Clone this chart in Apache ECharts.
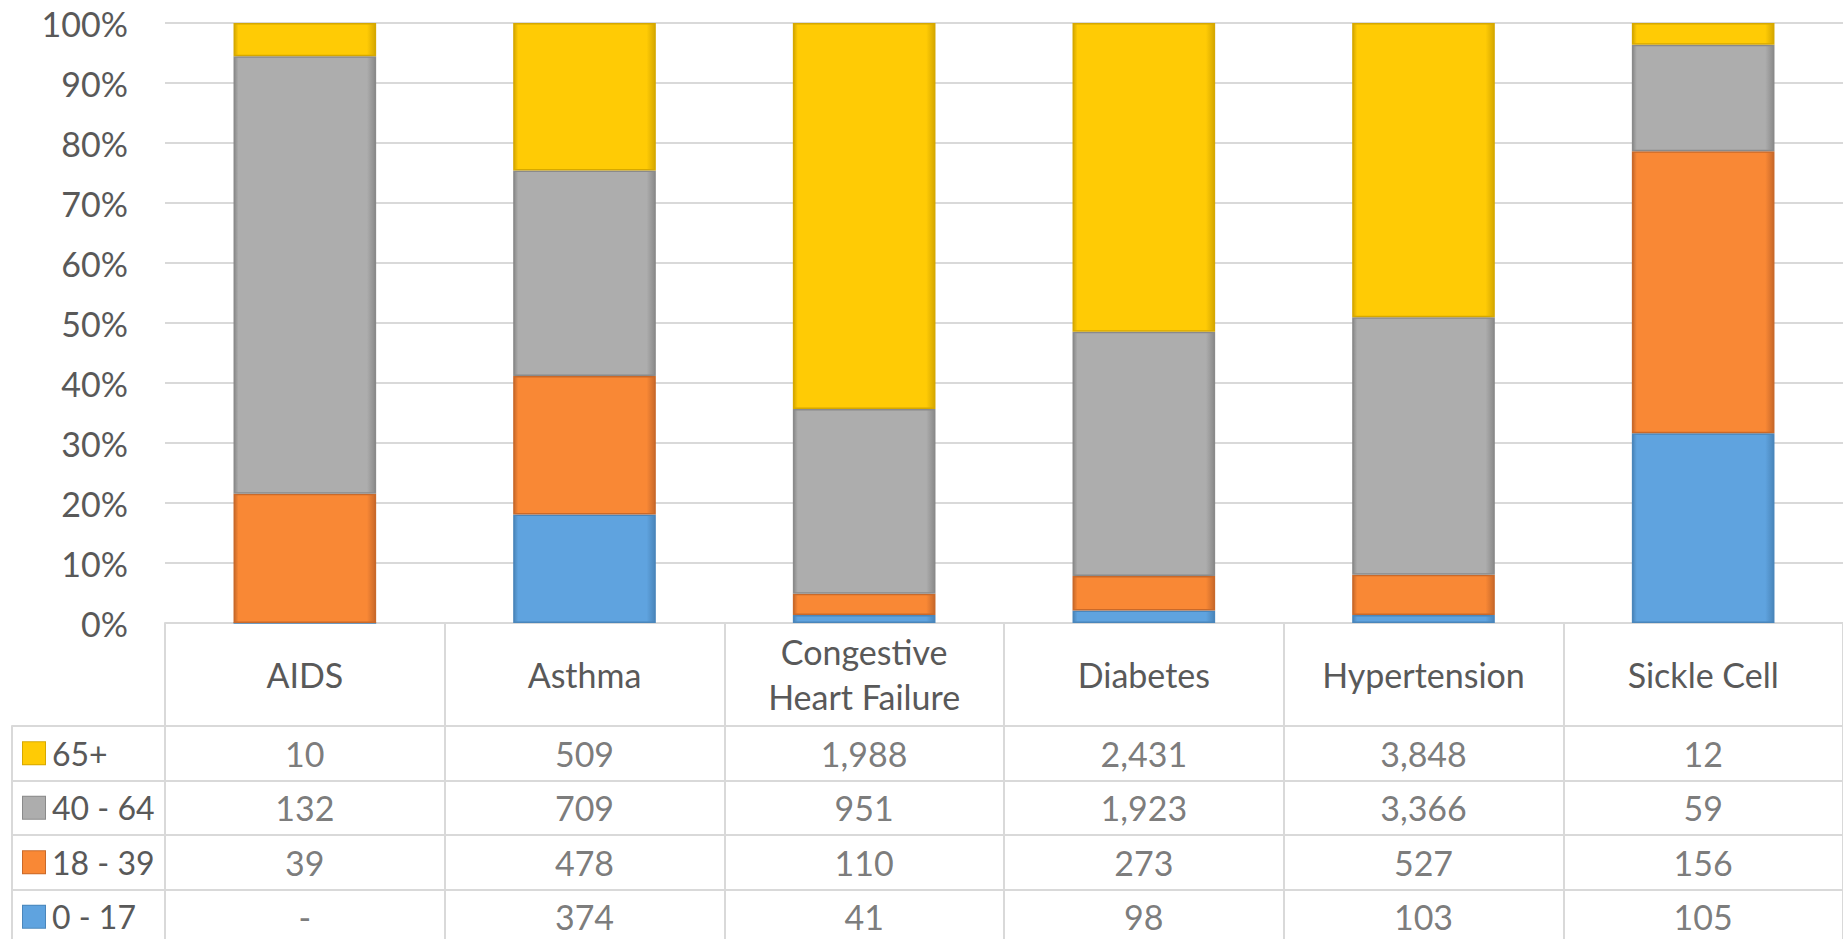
<!DOCTYPE html>
<html>
<head>
<meta charset="utf-8">
<title>Age groups by condition</title>
<script src="https://cdn.jsdelivr.net/npm/echarts@6.0.0/dist/echarts.min.js"></script>
<style>
    html, body { margin: 0; padding: 0; background: #fff; }
    #main { width: 1843px; height: 939px; }
</style>
</head>
<body>
<div id="main"></div>
<script>
// categories (columns of the data table)
var categories = ['AIDS', 'Asthma', 'Congestive Heart Failure', 'Diabetes', 'Hypertension', 'Sickle Cell'];

// counts per age group
var age0to17  = [0, 374, 41, 98, 103, 105];
var age18to39 = [39, 478, 110, 273, 527, 156];
var age40to64 = [132, 709, 951, 1923, 3366, 59];
var age65plus = [10, 509, 1988, 2431, 3848, 12];

var groupNames = ['0 - 17', '18 - 39', '40 - 64', '65+'];
var groupColors = ['#5fa3df', '#f98835', '#adadad', '#ffcb05'];
var groupBorders = ['#4a86bb', '#c9692a', '#8a8a8a', '#d6a800'];

// y axis ticks (percent)
var yTicks = [0, 10, 20, 30, 40, 50, 60, 70, 80, 90, 100];

var groups = [age0to17, age18to39, age40to64, age65plus];
var textColor = '#595959';
var lineColor = '#d9d9d9';
var fontFamily = 'Lato, "Open Sans", sans-serif';
var fontSize = 34;

//每一列换算成百分比
function toPercent(arr, i) {
    var total = 0;
    for (var g = 0; g < groups.length; g++) {
        total += groups[g][i];
    }
    return total ? arr[i] / total * 100 : 0;
}

function fmt(v) {
    if (!v) return '-';
    return v.toLocaleString('en-US');
}

var barSeries = [];
for (var g = 0; g < groups.length; g++) {
    var pct = [];
    for (var i = 0; i < categories.length; i++) {
        pct.push(toPercent(groups[g], i));
    }
    barSeries.push({
        name: groupNames[g],
        type: 'bar',
        stack: 'total',
        xAxisIndex: 0,
        yAxisIndex: 0,
        barWidth: '51%',
        data: pct,
        itemStyle: {
            //左右边缘稍暗一点,模仿斜面效果
            color: {
                type: 'linear', x: 0, y: 0, x2: 1, y2: 0,
                colorStops: [
                    { offset: 0, color: groupBorders[g] },
                    { offset: 0.03, color: groupColors[g] },
                    { offset: 0.94, color: groupColors[g] },
                    { offset: 1, color: groupBorders[g] }
                ]
            },
            borderColor: groupBorders[g],
            borderWidth: 1.5
        }
    });
}

// table rows, top to bottom: 65+, 40 - 64, 18 - 39, 0 - 17
var tableRows = groupNames.slice().reverse();
var tableCells = [];
for (var r = 0; r < tableRows.length; r++) {
    var src = groups[groups.length - 1 - r];
    for (var c = 0; c < categories.length; c++) {
        tableCells.push([categories[c], tableRows[r], src[c]]);
    }
}

// legend squares in the left column of the table
var rich = {
    t: { fontSize: 32, fontFamily: fontFamily, color: textColor, padding: [0, 0, 0, 7] }
};
for (var g = 0; g < groupNames.length; g++) {
    rich['k' + g] = {
        width: 22, height: 22,
        backgroundColor: groupColors[g],
        borderColor: groupBorders[g],
        borderWidth: 1
    };
}

var myChart = echarts.init(document.getElementById('main'), null, { renderer: 'svg' });
myChart.setOption({
    animation: false,
    backgroundColor: '#fff',
    grid: [
        { left: 165, right: 0, top: 23, height: 600, outerBoundsMode: 'none' },
        { left: 165, right: 0, top: 726, height: 218, outerBoundsMode: 'none' }
    ],
    xAxis: [ {
        type: 'category',
        gridIndex: 0,
        data: categories,
        axisLine: { lineStyle: { color: lineColor, width: 2 } },
        axisTick: { show: true, interval: 0, length: 330, lineStyle: { color: lineColor, width: 2 } },
        axisLabel: {
            interval: 0,
            margin: 51,
            verticalAlign: 'middle',
            color: textColor,
            fontSize: fontSize,
            fontFamily: fontFamily,
            lineHeight: 45,
            formatter: function (v) { return v.replace('Congestive ', 'Congestive\n'); }
        }
    }, {
        type: 'category',
        gridIndex: 1,
        data: categories,
        axisLine: { show: false },
        axisTick: { show: false },
        axisLabel: { show: false },
        splitLine: { show: false }
    } ],
    yAxis: [ {
        type: 'value',
        gridIndex: 0,
        min: yTicks[0],
        max: yTicks[yTicks.length - 1],
        interval: 10,
        axisLine: { show: false },
        axisTick: { show: false },
        axisLabel: {
            margin: 37,
            color: textColor,
            fontSize: fontSize,
            fontFamily: fontFamily,
            formatter: '{value}%'
        },
        splitLine: { lineStyle: { color: lineColor, width: 2 } }
    }, {
        type: 'category',
        gridIndex: 1,
        inverse: true,
        position: 'left',
        offset: 153,
        data: tableRows,
        axisLine: { show: true, lineStyle: { color: lineColor, width: 2 } },
        axisTick: { show: true, inside: true, interval: 0, length: 153, lineStyle: { color: lineColor, width: 2 } },
        axisLabel: {
            inside: true,
            interval: 0,
            margin: 11,
            rich: rich,
            formatter: function (v) {
                var k = groupNames.indexOf(v);
                return '{k' + k + '|}{t|' + v + '}';
            }
        },
        splitLine: { show: true, interval: 0, lineStyle: { color: lineColor, width: 2 } }
    } ],
    series: barSeries.concat([ {
        name: 'table',
        type: 'scatter',
        xAxisIndex: 1,
        yAxisIndex: 1,
        symbolSize: 1,
        itemStyle: { color: 'rgba(0,0,0,0)' },
        data: tableCells,
        label: {
            show: true,
            position: 'inside',
            color: textColor,
            fontSize: fontSize,
            fontFamily: fontFamily,
            formatter: function (p) { return fmt(p.value[2]); }
        }
    } ])
});
window.addEventListener('resize', function () {
    myChart.resize();
});
</script>
</body>
</html>
